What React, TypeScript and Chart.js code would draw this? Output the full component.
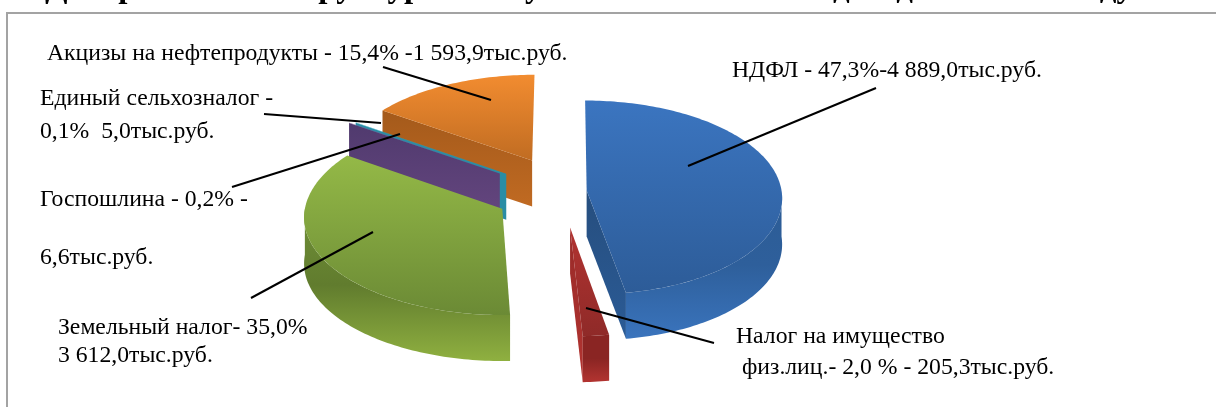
import React, { useEffect, useRef } from "react";
import { Chart, registerables } from "chart.js";

Chart.register(...registerables);

// ---- data ----
const categories = [
  "НДФЛ",
  "Налог на имущество физ.лиц.",
  "Земельный налог",
  "Госпошлина",
  "Единый сельхозналог",
  "Акцизы на нефтепродукты",
];
const values = [4889.0, 205.3, 3612.0, 6.6, 5.0, 1593.9];
const titleWords = ["Диаграмма", "структуры", "поступлений", "налоговых", "доходов", "в 2015", "году"];
const labelLines = [
  "Акцизы на нефтепродукты - 15,4% -1 593,9тыс.руб.",
  "НДФЛ - 47,3%-4 889,0тыс.руб.",
  "Единый сельхозналог -",
  "0,1%  5,0тыс.руб.",
  "Госпошлина - 0,2% -",
  "6,6тыс.руб.",
  "Земельный налог- 35,0%",
  "3 612,0тыс.руб.",
  "Налог на имущество",
  "физ.лиц.- 2,0 % - 205,3тыс.руб.",
];

// ---- layout / style ----
const W = 1216;
const H = 407;
const sliceOffsets = [19, 62, 62, 66, 61, 63];
const explodeTilt = [0, 0.03, 0, -0.09, -0.05, 0];
const titleX = [45, 287, 459, 610, 833, 990, 1070];
const labelPos = [
  [47, 60],
  [732, 77],
  [40, 105],
  [40, 138],
  [40, 206],
  [40, 264],
  [58, 334],
  [58, 362],
  [736, 343],
  [742, 374],
];
const leaders = [
  [491, 100, 383, 67],
  [688, 166, 876, 88],
  [381, 123, 264, 114],
  [400, 134, 232, 187],
  [373, 232, 251, 298],
  [586, 308, 714, 343],
];
const P3D = { dx: -43, dy: -12, rx: 195, ry: 97, p: 0.07, skew: 0.02, depth: 46 };
const palettes = [
  { top: ["#3b75c0", "#2d5c98"], outer: ["#2c5c95", "#2e5f9b", "#3a74bd"], side: ["#264e7e", "#2b5b96"] },
  { top: ["#b23331", "#8f2a28"], outer: ["#8a2523", "#8a2523", "#b33431"], side: ["#982a28", "#b33431"] },
  { top: ["#94b947", "#6b8a35"], outer: ["#6f8f37", "#617c2e", "#8fb040"], side: ["#617c2e", "#8fb040"] },
  { top: ["#7a5a9c", "#7a5a9c"], outer: ["#503a6e", "#5a4078", "#65467f"], side: ["#503a6e", "#65467f"] },
  { top: ["#2fa3bf", "#2fa3bf"], outer: ["#2a8da5", "#2a8da5", "#2a8da5"], side: ["#2a8da5", "#2a8da5"] },
  { top: ["#f28c30", "#c06c22"], outer: ["#a45a1b", "#b0611e", "#c06a22"], side: ["#a45a1b", "#c06a22"] },
];

function fillGrad(ctx: CanvasRenderingContext2D, pts: number[][], stops: string[]) {
  const ys = pts.map((q) => q[1]);
  const g = ctx.createLinearGradient(0, Math.min(...ys), 0, Math.max(...ys) + 0.01);
  stops.forEach((c, i) => g.addColorStop(i / (stops.length - 1), c));
  ctx.beginPath();
  pts.forEach((q, i) => (i ? ctx.lineTo(q[0], q[1]) : ctx.moveTo(q[0], q[1])));
  ctx.closePath();
  ctx.fillStyle = g;
  ctx.fill();
}

const pie3d = {
  id: "pie3d",
  beforeDatasetDraw(chart: any) {
    const ctx: CanvasRenderingContext2D = chart.ctx;
    const arcs = chart.getDatasetMeta(0).data;
    const items = arcs.map((el: any, i: number) => {
      const { x, y, startAngle: a0, endAngle: a1, outerRadius: R } = el.getProps(["x", "y", "startAngle", "endAngle", "outerRadius"], true);
      const mid = (a0 + a1) / 2;
      const e = (el.options.offset || 0) / R;
      const ox = e * Math.cos(mid + explodeTilt[i]);
      const oy = e * Math.sin(mid + explodeTilt[i]);
      const cx = x + P3D.dx;
      const cy = y + P3D.dy;
      const project = (lx: number, ly: number): number[] => {
        const X = ox + lx;
        const Y = oy + ly;
        const w = 1 + P3D.p * Y;
        const sk = P3D.skew * Math.pow(Math.max(ly, 0), 2);
        return [cx + P3D.rx * (X + sk) * w, cy + P3D.ry * Y * w];
      };
      const onArc = (a: number) => project(Math.cos(a), Math.sin(a));
      return { i, a0, a1, sortKey: Math.sin(mid), project, onArc };
    });
    items.sort((p: any, q: any) => p.sortKey - q.sortKey);
    const D = P3D.depth;
    const drop = (q: number[]) => [q[0], q[1] + D];
    items.forEach(({ i, a0, a1, project, onArc }: any) => {
      const pal = palettes[i];
      const apex = project(0, 0);
      if (Math.cos(a0) < -1e-3) {
        const q = onArc(a0);
        fillGrad(ctx, [apex, q, drop(q), drop(apex)], pal.side);
      }
      if (Math.cos(a1) > 1e-3) {
        const q = onArc(a1);
        fillGrad(ctx, [apex, q, drop(q), drop(apex)], pal.side);
      }
      const lo = Math.max(a0, 0);
      const hi = Math.min(a1, Math.PI);
      if (lo < hi) {
        const n = Math.ceil((hi - lo) / 0.02);
        const upper: number[][] = [];
        for (let k = 0; k <= n; k++) upper.push(onArc(lo + ((hi - lo) * k) / n));
        fillGrad(ctx, upper.concat(upper.slice().reverse().map(drop)), pal.outer);
      }
      const n = Math.max(2, Math.ceil((a1 - a0) / 0.02));
      const topPts = [apex];
      for (let k = 0; k <= n; k++) topPts.push(onArc(a0 + ((a1 - a0) * k) / n));
      fillGrad(ctx, topPts, pal.top);
    });
    return false;
  },
  afterDatasetsDraw(chart: any) {
    const ctx: CanvasRenderingContext2D = chart.ctx;
    ctx.save();
    ctx.strokeStyle = "#000";
    ctx.lineWidth = 2;
    leaders.forEach(([x1, y1, x2, y2]) => {
      ctx.beginPath();
      ctx.moveTo(x1, y1);
      ctx.lineTo(x2, y2);
      ctx.stroke();
    });
    ctx.fillStyle = "#000";
    ctx.textBaseline = "alphabetic";
    ctx.textAlign = "left";
    ctx.font = '23.7px "Liberation Serif"';
    labelLines.forEach((t, i) => ctx.fillText(t, labelPos[i][0], labelPos[i][1]));
    ctx.font = 'bold 33px "Liberation Serif"';
    titleWords.forEach((t, i) => ctx.fillText(t, titleX[i], -3));
    ctx.strokeStyle = "#a3a3a3";
    ctx.lineWidth = 2;
    ctx.beginPath();
    ctx.moveTo(7, H);
    ctx.lineTo(7, 13);
    ctx.lineTo(W, 13);
    ctx.stroke();
    ctx.restore();
  },
};

export default function App() {
  const ref = useRef<HTMLCanvasElement>(null);
  useEffect(() => {
    document.body.style.margin = "0";
    const chart = new Chart(ref.current as HTMLCanvasElement, {
      type: "pie",
      data: {
        labels: categories,
        datasets: [{ data: values, offset: sliceOffsets, backgroundColor: palettes.map((p) => p.top[0]), borderWidth: 0 }],
      },
      options: {
        responsive: false,
        animation: false,
        devicePixelRatio: 1,
        layout: { padding: 0 },
        plugins: { legend: { display: false }, tooltip: { enabled: false }, title: { display: false } },
      },
      plugins: [pie3d],
    } as any);
    return () => chart.destroy();
  }, []);
  return <canvas ref={ref} width={W} height={H} style={{ display: "block", width: W, height: H }} />;
}
